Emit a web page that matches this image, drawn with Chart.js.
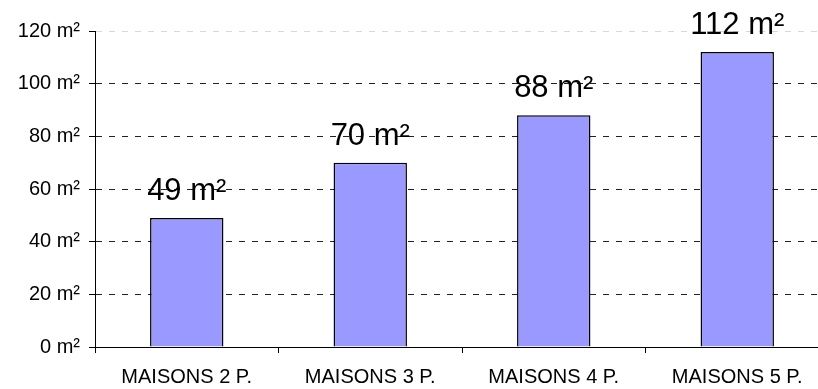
<!DOCTYPE html>
<html>
<head>
<meta charset="utf-8">
<script src="https://cdn.jsdelivr.net/npm/chart.js@4/dist/chart.umd.min.js"></script>
<style>
  html, body { margin: 0; padding: 0; background: #fff; }
  #wrap { width: 818px; height: 389px; overflow: hidden; }
  canvas { display: block; }
</style>
</head>
<body>
<div id="wrap"><canvas id="c" width="840" height="389"></canvas></div>
<script>
// Surface moyenne par type de maison
const categories = ['MAISONS 2 P.', 'MAISONS 3 P.', 'MAISONS 4 P.', 'MAISONS 5 P.'];
const surfaces = [49, 70, 88, 112];
const unit = 'm²';
const yMin = 0;
const yMax = 120;
const yStep = 20;

const FONT = '"Liberation Sans", Arial, sans-serif';

// Writes the surface above each bar
const valueLabels = {
  id: 'valueLabels',
  afterDatasetsDraw(chart) {
    const ctx = chart.ctx;
    const meta = chart.getDatasetMeta(0);
    ctx.save();
    ctx.font = '31px ' + FONT;
    ctx.fillStyle = '#000';
    ctx.textAlign = 'center';
    ctx.textBaseline = 'alphabetic';
    meta.data.forEach((bar, i) => {
      ctx.fillText(surfaces[i] + ' ' + unit, bar.x, bar.y - 18);
    });
    ctx.restore();
  }
};

new Chart(document.getElementById('c'), {
  type: 'bar',
  data: {
    labels: categories,
    datasets: [{
      data: surfaces,
      backgroundColor: '#9999FF',
      borderColor: '#000',
      borderWidth: 1.5,
      borderSkipped: 'bottom',
      barPercentage: 0.4,
      categoryPercentage: 1.0
    }]
  },
  options: {
    responsive: false,
    animation: false,
    layout: { padding: { top: 31, right: 11, bottom: 0, left: 0 } },
    plugins: {
      legend: { display: false },
      tooltip: { enabled: false }
    },
    scales: {
      x: {
        grid: {
          offset: true,
          drawOnChartArea: false,
          drawTicks: true,
          tickLength: 6,
          tickColor: '#000',
          tickBorderDash: []
        },
        border: { display: true, color: '#000', width: 1 },
        ticks: {
          color: '#000',
          font: { family: FONT, size: 20 },
          padding: 12,
          maxRotation: 0,
          autoSkip: false
        },
        afterFit(scale) { scale.height = 42; }
      },
      y: {
        min: yMin,
        max: yMax,
        grid: {
          color: (c) => (c.tick && c.tick.value === yMax) ? '#d8d8d8' : '#222',
          lineWidth: 1,
          tickLength: 6,
          tickColor: '#000',
          tickBorderDash: []
        },
        border: { display: true, color: '#000', width: 1, dash: [6, 7] },
        ticks: {
          stepSize: yStep,
          color: '#000',
          font: { family: FONT, size: 20 },
          padding: 9,
          callback: (v) => v + ' ' + unit
        },
        afterFit(scale) { scale.width = 95; }
      }
    }
  },
  plugins: [valueLabels]
});
</script>
</body>
</html>
